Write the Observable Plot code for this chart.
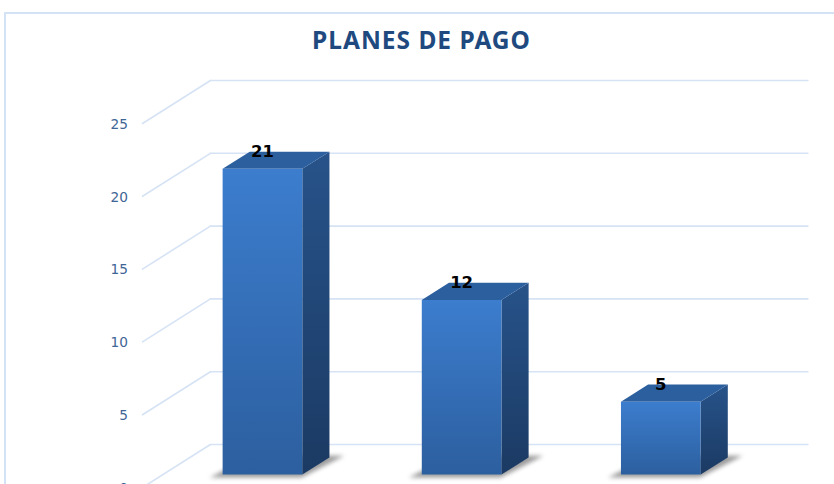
<!DOCTYPE html>
<html>
<head>
<meta charset="utf-8">
<script src="https://cdn.jsdelivr.net/npm/d3@7"></script>
<script src="https://cdn.jsdelivr.net/npm/@observablehq/plot@0.6"></script>
<style>
html,body{margin:0;padding:0;background:#fff;overflow:hidden}
#chart{position:relative;width:834px;height:484px;overflow:hidden}
#chart svg{position:absolute;left:0;top:0;background:transparent}
#frame{position:absolute;left:4px;top:12px;width:840px;height:500px;border:2px solid #d3e2f4;box-sizing:border-box}
</style>
</head>
<body>
<div id="chart"><div id="frame"></div></div>
<script>
const title = "PLANES DE PAGO";
const categories = [0, 1, 2];
const values = [21, 12, 5];
const ticks = [0, 5, 10, 15, 20, 25];

// Oblique projection: the depth of the box shifts a point right and up, in scale units.
const depthX = 0.341, depthY = 2.953;
const P = (u, d, v, face) => ({x: u + depthX * d, y: v + depthY * d, face});
const barL = 0.3, barR = 0.7, barF = 0.3, barB = 0.7;

const poly = (key, pts) => pts.map(p => ({...p, key}));
const front = categories.flatMap(c => poly(c, [
  P(c + barL, barF, 0), P(c + barR, barF, 0), P(c + barR, barF, values[c]), P(c + barL, barF, values[c])]));
const side = categories.flatMap(c => poly(c, [
  P(c + barR, barF, 0), P(c + barR, barB, 0), P(c + barR, barB, values[c]), P(c + barR, barF, values[c])]));
const top_ = categories.flatMap(c => poly(c, [
  P(c + barL, barF, values[c]), P(c + barR, barF, values[c]), P(c + barR, barB, values[c]), P(c + barL, barB, values[c])]));
const shadow = categories.flatMap(c => poly(c, [
  P(c + 0.26, 0.23, 0), P(c + 0.72, 0.23, 0), P(c + 0.76, 0.74, 0), P(c + 0.30, 0.74, 0)]));
const sideWall = ticks.flatMap(t => poly(t, [P(0, 0, t), P(0, 1, t)]));
const backWall = ticks.flatMap(t => poly(t, [P(0, 1, t), P(3, 1, t)]));
const labels = categories.map(c => ({...P(c + 0.5, barF, values[c]), text: String(values[c])}));

const grad = (id, a, b) => `<linearGradient id="${id}" x1="0" y1="0" x2="0" y2="1"><stop offset="0" stop-color="${a}"/><stop offset="1" stop-color="${b}"/></linearGradient>`;
const defs = () => {
  const g = document.createElementNS("http://www.w3.org/2000/svg", "defs");
  g.innerHTML = grad("gFront", "#3c7dce", "#2c5f9f") + grad("gSide", "#27538a", "#1b3a63");
  return g;
};

const gridStyle = {x: "x", y: "y", z: "key", stroke: "#d6e3f5", strokeWidth: 1.6};
const face = (data, fill) => Plot.line(data, {x: "x", y: "y", z: "key", fill, stroke: "none"});

const plot = Plot.plot({
  width: 834, height: 484,
  marginTop: 0, marginRight: 0, marginBottom: 0, marginLeft: 0,
  style: {background: "transparent"},
  x: {domain: [0, 3], range: [142, 739.5], axis: null},
  y: {domain: [0, 25], range: [487, 123], axis: null},
  marks: [
    defs,
    Plot.line(sideWall, gridStyle),
    Plot.line(backWall, gridStyle),
    Plot.line(shadow, {x: "x", y: "y", z: "key", fill: "#4a4a4a", fillOpacity: 0.55, stroke: "none", imageFilter: "blur(2px)"}),
    face(side, "url(#gSide)"),
    face(top_, "#2b5f9e"),
    face(front, "url(#gFront)"),
    Plot.text(ticks, {x: 0, y: d => d, text: d => String(d), dx: -14.5, dy: 1, textAnchor: "end",
      fill: "#3f6596", fontSize: 13.7, fontFamily: "DejaVu Sans"}),
    Plot.text(labels, {x: "x", y: "y", text: "text", dy: -17.5, fill: "#000", fontSize: 16.5,
      fontWeight: "bold", fontFamily: "DejaVu Sans"}),
    Plot.text([title], {frameAnchor: "top", dx: 4, dy: 41, text: d => d, lineAnchor: "middle",
      fill: "#204a7f", fontSize: 24.5, fontWeight: "bold", fontFamily: "Noto Sans"})
  ]
});
d3.select(plot).selectAll("text").filter(function () { return this.textContent === title; })
  .style("letter-spacing", "1px");
document.getElementById("chart").appendChild(plot);
</script>
</body>
</html>
